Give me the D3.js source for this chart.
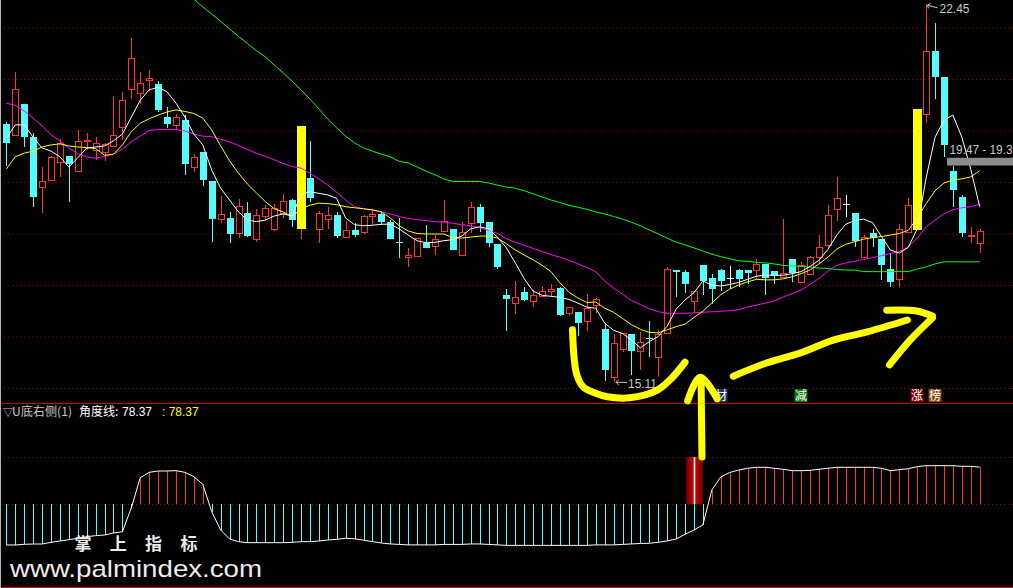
<!DOCTYPE html>
<html><head><meta charset="utf-8">
<script src="https://cdn.jsdelivr.net/npm/d3@7"></script>
<style>html,body{margin:0;padding:0;background:#000;overflow:hidden}</style>
</head><body><svg id="c" width="1013" height="588"></svg>
<script>
// ---------------- DATA ----------------
const openP = [20.13,19.91,20.51,19.88,18.90,19.04,19.39,19.50,19.21,19.79,
 19.63,19.58,19.69,20.06,20.80,20.72,20.99,20.90,20.26,20.11,
 20.20,19.29,19.58,19.02,18.29,18.30,18.01,18.39,17.90,18.34,
 18.09,18.40,18.66,18.09,19.08,18.09,18.29,18.35,17.94,18.07,
 18.03,18.34,18.38,18.22,17.83,17.55,17.57,17.81,17.76,18.05,
 18.09,17.59,18.20,18.51,18.22,17.80,16.80,16.66,16.86,16.68,
 16.79,16.89,16.94,16.45,16.47,16.31,16.61,16.14,15.21,15.75,
 16.05,15.72,15.98,15.60,16.07,17.30,17.25,16.68,17.38,17.14,
 17.30,17.14,17.30,17.29,17.29,17.40,17.27,17.16,17.51,17.05,
 17.21,17.54,17.78,18.47,18.58,18.40,17.55,18.00,17.89,17.32,
 17.11,18.03,18.07,20.33,21.54,21.04,19.21,18.71,17.95,17.81];
const highP = [20.17,21.14,20.51,19.96,19.30,19.50,19.84,19.51,20.01,19.95,
 19.87,19.76,20.67,20.75,21.80,21.14,21.17,20.96,20.45,20.32,
 20.31,19.54,19.58,19.02,18.73,18.42,18.67,18.61,18.47,18.55,
 18.57,18.77,18.67,20.09,19.80,18.44,18.51,18.42,18.24,18.20,
 18.35,18.48,18.42,18.26,18.30,17.71,17.92,18.17,17.97,18.65,
 18.09,18.22,18.62,18.57,18.23,17.80,16.92,17.07,16.97,16.90,
 16.98,17.01,16.96,16.57,16.47,16.83,16.75,16.26,16.05,16.06,
 16.05,16.09,16.30,16.13,17.34,17.30,17.29,16.88,17.38,17.21,
 17.32,17.37,17.32,17.29,17.50,17.40,17.27,18.28,17.51,17.45,
 17.56,17.97,18.55,19.10,18.75,18.40,17.97,18.08,17.89,17.62,
 18.18,18.69,20.41,22.45,22.09,21.04,19.32,18.75,18.12,18.08];
const lowP = [19.31,19.91,19.67,18.52,18.39,19.02,19.10,18.62,19.20,19.62,
 19.43,19.40,19.68,19.82,20.61,20.51,20.76,20.35,20.05,20.03,
 19.14,19.19,18.93,17.83,18.21,17.82,17.91,17.94,17.83,18.26,
 18.05,18.31,18.13,17.89,18.61,17.82,18.09,17.91,17.93,17.94,
 17.99,18.17,18.16,17.89,17.53,17.34,17.57,17.71,17.58,18.04,
 17.67,17.59,18.00,18.02,17.74,17.31,16.11,16.44,16.68,16.58,
 16.77,16.79,16.40,16.42,16.01,16.11,16.45,15.13,15.11,15.70,
 15.25,15.35,15.61,15.22,16.07,16.76,16.85,16.45,16.81,16.63,
 16.89,16.92,16.97,17.01,17.10,16.81,17.02,17.16,17.06,17.05,
 17.19,17.42,17.69,18.24,18.33,17.74,17.54,17.74,17.10,16.97,
 16.97,18.03,18.07,20.15,20.62,19.49,18.51,17.94,17.82,17.62];
const closeP = [19.76,20.80,19.88,18.71,19.01,19.48,19.76,19.34,19.79,19.82,
 19.76,19.74,19.91,20.59,21.41,20.92,21.02,20.40,20.13,20.26,
 19.35,19.48,19.04,18.29,18.38,17.99,18.53,17.95,18.35,18.49,
 18.49,18.63,18.26,20.09,18.68,18.39,18.35,17.95,18.06,17.98,
 18.34,18.38,18.22,17.90,17.82,17.58,17.92,17.72,17.89,18.25,
 17.68,18.02,18.51,18.21,17.82,17.34,16.73,16.76,16.70,16.80,
 16.88,16.92,16.42,16.57,16.27,16.56,16.72,15.34,15.87,16.06,
 15.71,15.90,15.96,16.05,17.31,17.25,17.01,16.88,17.07,16.92,
 17.08,17.14,17.11,17.24,17.40,17.13,17.17,17.24,17.23,17.39,
 17.54,17.74,18.35,18.68,18.58,17.86,17.93,17.91,17.39,17.06,
 18.09,18.55,20.41,21.54,21.04,19.72,18.85,18.00,17.98,18.04];
// limit-up days (drawn as solid yellow bars)
const limitUpDays = [33, 102];

const ma5 = [19.85,20.11,20.11,19.87,19.66,19.60,19.49,19.29,19.47,19.66,
 19.68,19.70,19.80,19.93,20.26,20.59,20.79,20.84,20.75,20.53,
 20.26,19.93,19.72,19.23,18.88,18.65,18.42,18.26,18.23,18.26,
 18.34,18.38,18.34,18.76,18.81,18.78,18.75,18.68,18.30,18.17,
 18.15,18.16,18.18,18.18,18.09,17.97,17.86,17.82,17.83,17.86,
 17.88,17.95,18.09,18.13,18.09,17.93,17.72,17.43,17.12,16.88,
 16.80,16.78,16.76,16.72,16.65,16.57,16.55,16.26,16.12,16.06,
 15.93,15.78,15.90,16.00,16.20,16.53,16.71,16.85,17.08,17.00,
 16.98,17.01,17.05,17.11,17.17,17.19,17.19,17.19,17.22,17.26,
 17.36,17.48,17.69,17.97,18.18,18.25,18.28,18.21,17.94,17.68,
 17.62,17.73,18.09,19.08,19.87,20.20,20.30,19.87,19.25,18.52];
const ma10 = [19.25,19.49,19.56,19.60,19.68,19.72,19.74,19.70,19.68,19.67,
 19.65,19.52,19.54,19.72,19.98,20.14,20.23,20.30,20.36,20.40,
 20.37,20.33,20.24,20.01,19.70,19.41,19.17,18.96,18.79,18.62,
 18.48,18.42,18.33,18.48,18.55,18.59,18.58,18.56,18.52,18.50,
 18.48,18.46,18.42,18.30,18.15,18.05,18.00,17.99,17.99,17.99,
 17.92,17.91,17.93,17.95,17.95,17.91,17.80,17.68,17.58,17.49,
 17.38,17.26,17.04,16.86,16.75,16.66,16.67,16.55,16.47,16.35,
 16.23,16.14,16.08,16.07,16.13,16.19,16.24,16.37,16.49,16.65,
 16.81,16.92,17.00,17.06,17.11,17.10,17.10,17.12,17.16,17.22,
 17.29,17.41,17.54,17.70,17.79,17.84,17.89,17.92,17.94,17.97,
 18.00,18.06,18.30,18.58,18.83,18.98,19.04,19.06,19.10,19.22];
const ma20 = [20.53,20.49,20.38,20.24,20.09,19.92,19.80,19.66,19.55,19.49,
 19.46,19.50,19.54,19.64,19.78,19.89,20.00,20.02,20.02,20.02,
 19.99,19.93,19.89,19.88,19.83,19.78,19.71,19.63,19.56,19.50,
 19.43,19.36,19.30,19.27,19.17,19.06,18.94,18.80,18.65,18.52,
 18.48,18.45,18.42,18.38,18.33,18.29,18.27,18.25,18.23,18.22,
 18.20,18.17,18.15,18.11,18.06,18.00,17.90,17.83,17.77,17.71,
 17.65,17.59,17.54,17.48,17.41,17.34,17.26,17.08,16.94,16.82,
 16.70,16.62,16.54,16.48,16.45,16.45,16.45,16.46,16.47,16.48,
 16.49,16.50,16.52,16.57,16.61,16.65,16.69,16.77,16.83,16.90,
 17.01,17.13,17.27,17.38,17.43,17.46,17.50,17.53,17.57,17.61,
 17.65,17.74,17.91,18.13,18.26,18.38,18.46,18.50,18.52,18.57];
const ma60 = [null,null,null,null,null,null,null,null,null,null,
 null,null,null,null,null,null,null,null,null,null,
 22.70,22.55,22.40,22.26,22.12,21.97,21.83,21.69,21.55,21.43,
 21.27,21.12,20.96,20.79,20.61,20.42,20.22,20.05,19.89,19.76,
 19.66,19.60,19.54,19.49,19.40,19.37,19.29,19.21,19.14,19.06,
 19.01,19.01,19.01,19.01,18.98,18.94,18.90,18.88,18.83,18.77,
 18.71,18.65,18.60,18.55,18.51,18.47,18.42,18.38,18.33,18.28,
 18.22,18.15,18.07,17.99,17.91,17.83,17.78,17.72,17.66,17.60,
 17.55,17.51,17.47,17.46,17.44,17.43,17.41,17.38,17.37,17.36,
 17.35,17.33,17.32,17.30,17.29,17.29,17.26,17.26,17.26,17.26,
 17.26,17.26,17.31,17.35,17.41,17.45,17.45,17.45,17.45,17.45];

// lower panel: "U底右侧" angle line
const angleLine = [-87.2,-87.2,-85.8,-85.1,-85.1,-81.6,-78.7,-75.9,-73.0,-69.5,
 -67.4,-66.0,-61.7,-58.9,-8.0,56.0,67.4,70.2,70.2,70.9,
 67.4,58.2,41.8,-16.3,-55.3,-74.5,-80.1,-82.3,-82.3,-82.3,
 -82.3,-82.3,-81.6,-80.1,-80.1,-78.7,-76.6,-75.2,-73.0,-74.0,
 -77.0,-80.0,-83.0,-85.0,-86.0,-87.0,-87.0,-87.0,-87.0,-86.0,
 -86.0,-86.0,-85.0,-85.0,-86.0,-87.0,-88.0,-88.0,-88.0,-88.0,
 -88.0,-88.0,-88.0,-88.0,-88.0,-88.0,-87.0,-87.0,-87.0,-86.0,
 -85.0,-84.0,-83.6,-81.5,-78.7,-74.5,-64.5,-55.3,-44.7,29.8,
 57.4,67.0,72.3,76.0,78.1,78.1,76.0,73.8,70.9,70.9,
 71.7,73.8,76.0,78.1,78.1,78.1,78.1,78.1,76.0,70.9,
 73.0,75.1,79.4,81.5,81.5,81.5,81.5,80.2,80.2,78.37];
const signalDays = [77];

const priceTicks = [15,16,17,18,19,20,21,22];
const angleTicks = [0,100];
const infoMarks = [{day:80,text:"材",bg:"#1a3a66"},{day:89,text:"减",bg:"#0a7a0a"},
                   {day:102,text:"涨",bg:"#7a0000"},{day:104,text:"榜",bg:"#8a4a10"}];
const headerName = "U底右侧(1)", headerLine = "角度线:", headerValue = "78.37";
const hiLabel = {day:103, value:22.45, text:"22.45"};
const loLabel = {day:68, value:15.11, text:"15.11"};
const rangeLabel = {text:"19.47 - 19.3", top:19.47, bottom:19.32};

// hand-drawn yellow annotations, in (day, price) space
const uStroke = [[63.4,16.13],[63.6,15.55],[63.9,15.25],[64.6,15.02],[66,14.9],[67.3,14.83],[69.8,14.81],[72.9,14.96],[74.5,15.19],[76.0,15.50]];
const upShaft = [[77.9,13.66],[77.85,14.4],[77.8,15.2]];
const upHead = [[76.3,14.75],[77.7,15.21],[79.6,14.79]];
const longShaft = [[81.4,15.23],[85.2,15.49],[88.9,15.68],[92.6,15.93],[96.4,16.09],[100.9,16.32]];
const longHeadTop = [[98.6,16.51],[101.8,16.50],[103.7,16.40]];
const longHeadBot = [[103.7,16.36],[101.2,15.93],[98.9,15.45]];

// ---------------- DRAW ----------------
const W = 1013, H = 588;
const svg = d3.select('#c');
svg.append('rect').attr('width', W).attr('height', H).attr('fill', '#000');
const defs = svg.append('defs');
defs.append('clipPath').attr('id','clipMain').append('rect').attr('x',0).attr('y',0).attr('width',W).attr('height',403);
defs.append('clipPath').attr('id','clipLow').append('rect').attr('x',0).attr('y',404).attr('width',W).attr('height',183);
const grad = defs.append('linearGradient').attr('id','sigGrad').attr('x1','0').attr('x2','1').attr('y1','0').attr('y2','0');
[[0,'#6a0000'],[0.4,'#c40000'],[0.5,'#d81010'],[0.6,'#c40000'],[1,'#6a0000']].forEach(s=>grad.append('stop').attr('offset',s[0]).attr('stop-color',s[1]));

const n = closeP.length;
const x = d3.scaleLinear().domain([0, n-1]).range([6.33, 979.7]);
const y = d3.scaleLinear().domain([15, 22]).range([388, 27.5]);
const yA = d3.scaleLinear().domain([0, 100]).range([504, 457]);
const px = i => Math.round(x(i));
const py = v => Math.round(y(v));

const RED = '#ff3232', CYAN = '#54fcfc';

// grids
function grid(scale, ticks, clip){
  const g = svg.append('g').attr('clip-path', clip)
    .call(d3.axisRight(scale).tickValues(ticks).tickSize(W).tickFormat(''));
  g.select('.domain').remove();
  g.selectAll('.tick line').attr('stroke','#8a0000').attr('stroke-dasharray','1,3');
}
grid(y, priceTicks, 'url(#clipMain)');
grid(yA, angleTicks, 'url(#clipLow)');

// main panel
const main = svg.append('g').attr('clip-path','url(#clipMain)');
const candles = main.append('g').attr('shape-rendering','crispEdges');
d3.range(n).forEach(i => {
  const cx = px(i), o = openP[i], c = closeP[i], h = highP[i], l = lowP[i];
  const g = candles.append('g');
  if (limitUpDays.includes(i)) {
    if (l < Math.min(o,c)) g.append('line').attr('x1',cx+0.5).attr('x2',cx+0.5).attr('y1',py(Math.min(o,c))).attr('y2',py(l)).attr('stroke',RED);
    g.append('rect').attr('x',cx-4).attr('width',9).attr('y',py(Math.max(o,c))).attr('height',py(Math.min(o,c))-py(Math.max(o,c))).attr('fill','#ffff00');
    return;
  }
  if (c > o) {
    const top = py(c), bot = py(o);
    g.append('line').attr('x1',cx+0.5).attr('x2',cx+0.5).attr('y1',py(h)).attr('y2',top).attr('stroke',RED);
    g.append('line').attr('x1',cx+0.5).attr('x2',cx+0.5).attr('y1',bot).attr('y2',py(l)).attr('stroke',RED);
    g.append('rect').attr('x',cx-2.5).attr('width',6).attr('y',top+0.5).attr('height',Math.max(1,bot-top)).attr('fill','none').attr('stroke',RED);
  } else if (c < o) {
    const top = py(o), bot = py(c);
    g.append('line').attr('x1',cx+0.5).attr('x2',cx+0.5).attr('y1',py(h)).attr('y2',py(l)).attr('stroke',CYAN);
    g.append('rect').attr('x',cx-3).attr('width',7).attr('y',top).attr('height',Math.max(1,bot-top)).attr('fill',CYAN);
  } else {
    g.append('line').attr('x1',cx+0.5).attr('x2',cx+0.5).attr('y1',py(h)).attr('y2',py(l)).attr('stroke','#fff');
    g.append('line').attr('x1',cx-3).attr('x2',cx+4).attr('y1',py(o)+0.5).attr('y2',py(o)+0.5).attr('stroke','#fff');
  }
});

const maLine = d3.line().defined(d => d != null).x((d,i) => x(i)).y(d => y(d));
[[ma60,'#00ff00'],[ma20,'#ff00ff'],[ma10,'#ffff00'],[ma5,'#ffffff']].forEach(([arr,col]) => {
  main.append('path').attr('d', maLine(arr)).attr('fill','none').attr('stroke',col).attr('stroke-width',1);
});

// price labels
const lbl = main.append('g').attr('font-family','"Liberation Sans", Arial, sans-serif').attr('font-size',12).attr('fill','#c8c8c8');
{
  const hx = px(hiLabel.day)+0.5, hy = y(hiLabel.value);
  lbl.append('path').attr('d',`M${hx+1},${hy+1} L${hx+11},${hy+3.5} M${hx+1},${hy+1} l3,-2 M${hx+1},${hy+1} l1,3`).attr('stroke','#c8c8c8').attr('fill','none');
  lbl.append('text').attr('x',hx+13).attr('y',hy+9).text(hiLabel.text);
  const lx = px(loLabel.day)+1, ly = y(loLabel.value);
  lbl.append('path').attr('d',`M${lx+1},${ly} L${lx+12},${ly} M${lx+1},${ly} l3,-3 M${lx+1},${ly} l3,3`).attr('stroke','#c8c8c8').attr('fill','none');
  lbl.append('text').attr('x',lx+13).attr('y',ly+6).attr('textLength',29).attr('lengthAdjust','spacingAndGlyphs').text(loLabel.text);
  main.append('rect').attr('x',947).attr('y',y(rangeLabel.top)).attr('width',W-947).attr('height',y(rangeLabel.bottom)-y(rangeLabel.top)).attr('fill','#8c8c8c');
  lbl.append('text').attr('x',949.5).attr('y',y(rangeLabel.top)-4).attr('textLength',63).attr('lengthAdjust','spacingAndGlyphs').text(rangeLabel.text);
}

// info markers
const im = main.append('g');
infoMarks.forEach(m => {
  const cx = px(m.day);
  im.append('rect').attr('x',cx-6.5).attr('y',389).attr('width',13).attr('height',13).attr('fill',m.bg);
  im.append('text').attr('x',cx).attr('y',400).attr('text-anchor','middle').attr('font-size',12)
    .attr('font-family','"Noto Sans CJK SC", sans-serif').attr('fill','#fff').text(m.text);
});

// lower panel
const low = svg.append('g').attr('clip-path','url(#clipLow)');
signalDays.forEach(d => {
  const cx = px(d);
  low.append('rect').attr('x',cx-8).attr('width',17).attr('y',yA(100)).attr('height',yA(0)-yA(100)).attr('fill','url(#sigGrad)');
});
const bars = low.append('g').attr('shape-rendering','crispEdges');
angleLine.forEach((v,i) => {
  bars.append('line').attr('x1',px(i)+0.5).attr('x2',px(i)+0.5).attr('y1',Math.round(yA(0))).attr('y2',yA(v))
    .attr('stroke', v >= 0 ? RED : CYAN);
});
signalDays.forEach(d => {
  low.append('line').attr('x1',px(d)+0.5).attr('x2',px(d)+0.5).attr('y1',yA(100)).attr('y2',yA(0)).attr('stroke','#fff').attr('stroke-width',1.5);
});
low.append('path').attr('d', d3.line().x((d,i)=>x(i)).y(d=>yA(d))(angleLine)).attr('fill','none').attr('stroke','#fff').attr('stroke-width',1);

// header
const hdr = svg.append('g').attr('font-size',12).attr('font-family','"Noto Sans CJK SC", "Liberation Sans", sans-serif');
hdr.append('text').attr('x',3).attr('y',416).attr('fill','#c8c8c8').attr('font-size',10).text('▽');
hdr.append('text').attr('x',12).attr('y',416).attr('fill','#c8c8c8').attr('textLength',60).attr('lengthAdjust','spacingAndGlyphs').text(headerName);
hdr.append('text').attr('x',79).attr('y',416).attr('fill','#ffffff').text(headerLine);
hdr.append('text').attr('x',122).attr('y',416).attr('fill','#ffffff').attr('font-family','"Liberation Sans", Arial, sans-serif').text(headerValue);
hdr.append('text').attr('x',162).attr('y',416).attr('fill','#ffff00').attr('font-family','"Liberation Sans", Arial, sans-serif').text(': ' + headerValue);

// separators / borders
svg.append('line').attr('x1',0).attr('x2',W).attr('y1',403.5).attr('y2',403.5).attr('stroke','#d00000');
svg.append('line').attr('x1',0).attr('x2',W).attr('y1',587.5).attr('y2',587.5).attr('stroke','#d00000');
svg.append('line').attr('x1',0.5).attr('x2',0.5).attr('y1',0).attr('y2',H).attr('stroke','#b4b4b4');

// hand-drawn annotations
const ann = svg.append('g').attr('fill','none').attr('stroke','#ffff00').attr('stroke-width',7)
  .attr('stroke-linecap','round').attr('stroke-linejoin','round');
const aLine = d3.line().x(d => x(d[0])).y(d => y(d[1])).curve(d3.curveCatmullRom);
[uStroke, upShaft, upHead, longShaft, longHeadTop, longHeadBot].forEach(s => ann.append('path').attr('d', aLine(s)));

// watermark
const wm = svg.append('g').attr('fill','#ececec');
['掌','上','指','标'].forEach((ch,k) => {
  wm.append('text').attr('x',83 + k*35.3).attr('y',550).attr('text-anchor','middle').attr('font-size',17)
    .attr('font-weight','bold').attr('font-family','"Noto Sans CJK SC", sans-serif').text(ch);
});
wm.append('text').attr('x',10).attr('y',577).attr('font-size',24).attr('font-family','"Liberation Sans", Arial, sans-serif')
  .attr('textLength',252).attr('lengthAdjust','spacingAndGlyphs').text('www.palmindex.com');
</script></body></html>
